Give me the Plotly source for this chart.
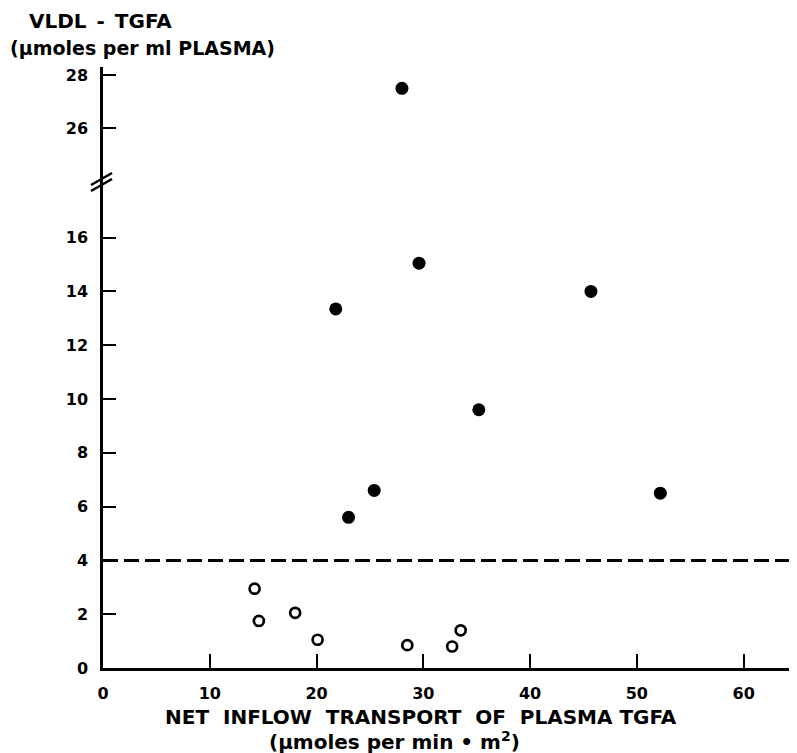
import plotly.graph_objects as go

# Filled circles: VLDL-TGFA above 4
filled_x = [28.0, 21.8, 29.6, 45.7, 35.2, 25.4, 23.0, 52.2]
filled_y = [27.5, 13.35, 15.05, 14.0, 9.6, 6.6, 5.6, 6.5]
# Open circles: below 4
open_x = [14.2, 14.6, 18.0, 20.1, 28.5, 32.7, 33.5]
open_y = [2.95, 1.75, 2.05, 1.05, 0.85, 0.8, 1.4]

BREAK_AT = 24.0          # upper panel starts here
THRESHOLD = 4

x_ticks = [0, 10, 20, 30, 40, 50, 60]
y_ticks_low = [0, 2, 4, 6, 8, 10, 12, 14, 16]
y_ticks_high = [26, 28]

lo_x = [x for x, y in zip(filled_x, filled_y) if y < BREAK_AT]
lo_y = [y for y in filled_y if y < BREAK_AT]
hi_x = [x for x, y in zip(filled_x, filled_y) if y >= BREAK_AT]
hi_y = [y for y in filled_y if y >= BREAK_AT]

FONT = "DejaVu Sans"
fig = go.Figure()

fig.add_trace(go.Scatter(x=open_x, y=open_y, mode="markers",
                         marker=dict(symbol="circle-open", size=10, color="black",
                                     line=dict(width=2.7, color="black")),
                         xaxis="x", yaxis="y", showlegend=False))
fig.add_trace(go.Scatter(x=lo_x, y=lo_y, mode="markers",
                         marker=dict(symbol="circle", size=13, color="black"),
                         xaxis="x", yaxis="y", showlegend=False))
fig.add_trace(go.Scatter(x=hi_x, y=hi_y, mode="markers",
                         marker=dict(symbol="circle", size=13, color="black"),
                         xaxis="x", yaxis="y2", showlegend=False))

# page has an 8px body margin: figure pixel = page pixel - 8
split = (668 - 182) / 601.0
tickfont = dict(family=FONT, size=16, color="black", weight="bold")

fig.update_layout(
    width=789, height=745,
    margin=dict(l=95, r=0, t=59, b=85),
    paper_bgcolor="white", plot_bgcolor="white",
    xaxis=dict(range=[0, 65], tickvals=x_ticks, ticks="inside", ticklen=14, tickwidth=2,
               tickcolor="black", showline=True, linecolor="black", linewidth=2.5,
               showgrid=False, zeroline=False, tickfont=tickfont, ticklabelstandoff=9,
               anchor="y"),
    yaxis=dict(domain=[0, split], range=[0, (668 - 182) / 26.9], tickvals=y_ticks_low,
               ticks="inside", ticklen=13, tickwidth=2, tickcolor="black",
               showline=True, linecolor="black", linewidth=2.5, showgrid=False,
               zeroline=False, tickfont=tickfont, ticklabelstandoff=9, anchor="x"),
    yaxis2=dict(domain=[split, 1], range=[23.985, 28.3], tickvals=y_ticks_high,
                ticks="inside", ticklen=13, tickwidth=2, tickcolor="black",
                showline=True, linecolor="black", linewidth=2.5, showgrid=False,
                zeroline=False, tickfont=tickfont, ticklabelstandoff=9, anchor="x"),
)

# dashed threshold line
fig.add_shape(type="line", xref="x domain", yref="y", x0=0, x1=1, y0=THRESHOLD, y1=THRESHOLD,
              line=dict(color="black", width=3, dash="15px,6px"))

# axis break marks (page pixels -> paper)
def px2paper(px, py):
    return (px - 103) / 694.0, (668 - py) / 601.0

for dy in (0, 6):
    xa, ya = px2paper(91, 191 - dy)
    xb, yb = px2paper(112, 179 - dy)
    fig.add_shape(type="line", xref="paper", yref="paper", x0=xa, y0=ya, x1=xb, y1=yb,
                  line=dict(color="black", width=2.5))

fig.add_annotation(text="VLDL\u2002-\u2002TGFA", xref="paper", yref="paper",
                   x=(27 - 103) / 694.0, y=(668 - 21) / 601.0, xanchor="left", yanchor="middle",
                   showarrow=False, font=dict(family=FONT, size=20, color="black", weight="bold"))
fig.add_annotation(text="(\u03bcmoles per ml PLASMA)", xref="paper", yref="paper",
                   x=(8 - 103) / 694.0, y=(668 - 48) / 601.0, xanchor="left", yanchor="middle",
                   showarrow=False, font=dict(family=FONT, size=19, color="black", weight="bold"))

xtitlefont = dict(family=FONT, size=20, color="black", weight="bold")
fig.add_annotation(text="NET  INFLOW  TRANSPORT  OF  PLASMA TGFA", xref="paper", yref="paper",
                   x=(421 - 103) / 694.0, y=(668 - 717) / 601.0, xanchor="center", yanchor="middle",
                   showarrow=False, font=xtitlefont)
fig.add_annotation(text="(\u03bcmoles per min \u2022 m<sup>2</sup>)", xref="paper", yref="paper",
                   x=(394 - 103) / 694.0, y=(668 - 741) / 601.0, xanchor="center", yanchor="middle",
                   showarrow=False, font=xtitlefont)

fig.write_html("out.html")
